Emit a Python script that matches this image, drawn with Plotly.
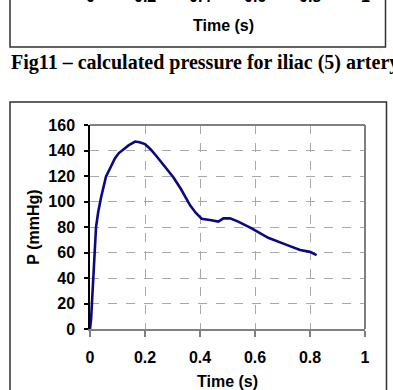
import plotly.graph_objects as go

time_s = [0, 0.004, 0.007, 0.012, 0.016, 0.022, 0.03, 0.04, 0.058, 0.075, 0.091, 0.105,
          0.121, 0.14, 0.164, 0.18, 0.2, 0.22, 0.242, 0.27, 0.303, 0.33, 0.364, 0.385,
          0.406, 0.436, 0.467, 0.485, 0.509, 0.539, 0.588, 0.648, 0.673, 0.715, 0.764,
          0.8, 0.824]
pressure = [0, 8, 20, 40, 60, 80, 92, 103, 119.5, 127, 134, 138, 141, 144, 147, 146.5,
            145, 141, 135.5, 128, 119, 110, 97, 91, 86.5, 85.5, 84.3, 86.8, 86.8, 84.2,
            79, 71.5, 69.3, 66, 62, 60.5, 58]
x_ticks = [0, 0.2, 0.4, 0.6, 0.8, 1]
x_tick_labels = ["0", "0.2", "0.4", "0.6", "0.8", "1"]
y_ticks = [0, 20, 40, 60, 80, 100, 120, 140, 160]
caption = "Fig11 \u2013 calculated pressure for iliac (5) artery"

W, H = 393, 390
L, R, T, B = 90, 365, 125, 329


def px(xp):
    return (xp - L) / (R - L)


def py(yp):
    return (B - yp) / (B - T)


sans = dict(family="Liberation Sans", size=16, color="black", weight="bold")

fig = go.Figure()
fig.add_trace(go.Scatter(x=time_s, y=pressure, mode="lines",
                         line=dict(color="#0a0a80", width=2.6), hoverinfo="skip"))

fig.update_layout(
    width=W, height=H,
    margin=dict(l=L, r=W - R, t=T, b=H - B),
    paper_bgcolor="white", plot_bgcolor="white",
    showlegend=False,
    xaxis=dict(range=[0, 1], tickvals=x_ticks, ticktext=x_tick_labels,
               automargin=False,
               showgrid=True, gridcolor="#a8a8a8", griddash="dash", gridwidth=1,
               showline=True, linecolor="#808080", linewidth=2,
               ticks="outside", ticklen=6, tickcolor="#808080", tickwidth=1.5,
               tickfont=sans, ticklabelstandoff=7, zeroline=False,
               title=dict(text="Time (s)", font=sans, standoff=15)),
    yaxis=dict(range=[0, 160], tickvals=y_ticks,
               automargin=False,
               showgrid=True, gridcolor="#a8a8a8", griddash="dash", gridwidth=1,
               showline=True, linecolor="black", linewidth=1.5,
               ticks="outside", ticklen=4, tickcolor="black", tickwidth=1.5,
               tickfont=sans, ticklabelstandoff=6, zeroline=False,
               title=dict(text="P (mmHg)", font=sans, standoff=5)),
)

# plot area border (gray, top and right)
fig.add_shape(type="line", xref="paper", yref="paper", x0=0, x1=1, y0=1, y1=1,
              line=dict(color="#808080", width=2), layer="above")
fig.add_shape(type="line", xref="paper", yref="paper", x0=1, x1=1, y0=0, y1=1,
              line=dict(color="#808080", width=2), layer="above")

# outer chart frame (this chart)
fig.add_shape(type="rect", xref="paper", yref="paper",
              x0=px(10), x1=px(386.5), y0=py(400), y1=py(102),
              line=dict(color="#303030", width=1.5), layer="below")
# previous chart's frame (bottom part visible)
fig.add_shape(type="rect", xref="paper", yref="paper",
              x0=px(10), x1=px(385.5), y0=py(47), y1=py(-20),
              line=dict(color="#303030", width=1.5), layer="below")

# previous chart's x tick labels (cut at top) and title
for v, lab in zip(x_ticks, x_tick_labels):
    fig.add_annotation(x=px(L + v * (R - L)), y=py(-4), xref="paper", yref="paper",
                       text=lab, showarrow=False, font=sans,
                       xanchor="center", yanchor="middle")
fig.add_annotation(x=px(223), y=py(26), xref="paper", yref="paper",
                   text="Time (s)", showarrow=False, font=sans,
                   xanchor="center", yanchor="middle")

# caption
fig.add_annotation(x=px(205), y=py(63), xref="paper", yref="paper",
                   text=caption, showarrow=False,
                   font=dict(family="Liberation Serif", size=20,
                             color="black", weight="bold"),
                   xanchor="center", yanchor="middle")

fig.write_html("out.html")
